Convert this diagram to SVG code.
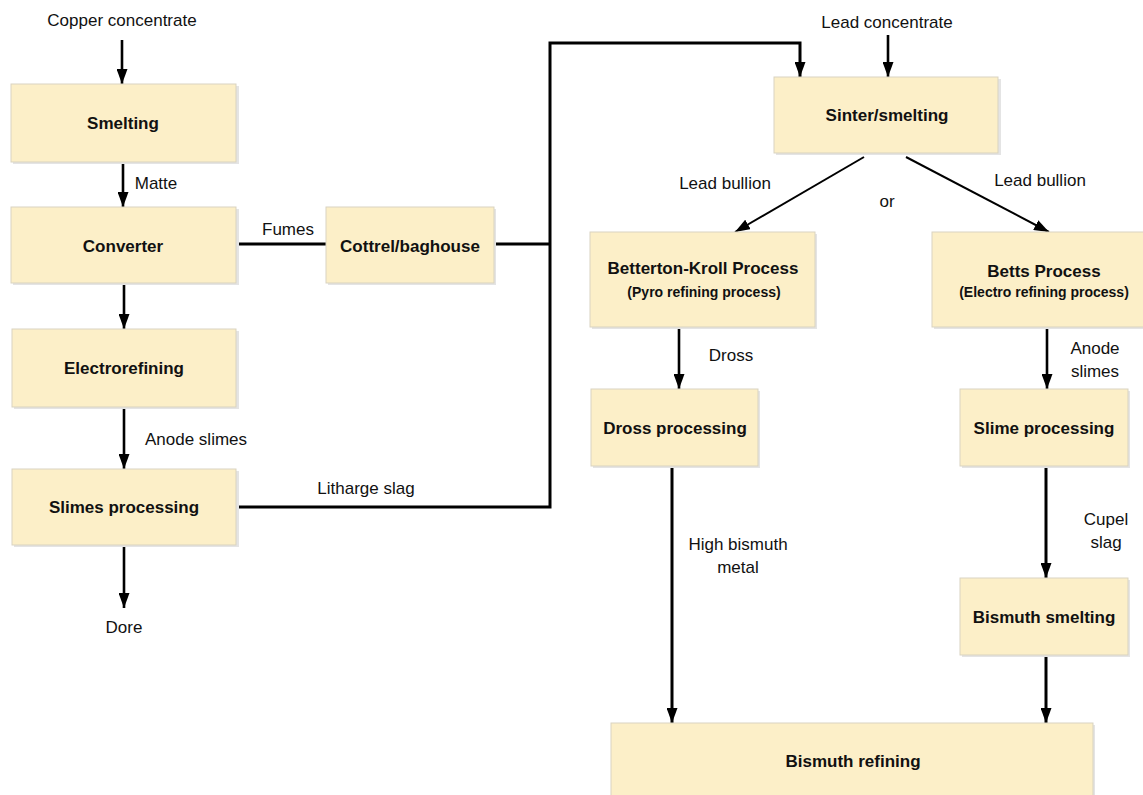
<svg xmlns="http://www.w3.org/2000/svg" width="1143" height="795" viewBox="0 0 1143 795">
<style>
.box{fill:#fcefc8;stroke:#d9d3c1;stroke-width:1}
.sh{fill:#e4e4e4}
.t{font-family:"Liberation Sans",Arial,sans-serif;font-size:17px;font-weight:bold;fill:#111;text-anchor:middle}
.s{font-family:"Liberation Sans",Arial,sans-serif;font-size:14px;font-weight:bold;fill:#111;text-anchor:middle}
.l{font-family:"Liberation Sans",Arial,sans-serif;font-size:17px;fill:#111;text-anchor:middle}
.c{fill:none;stroke:#000;stroke-width:2.6}
.d{fill:none;stroke:#000;stroke-width:2}
.k{fill:none;stroke:#000;stroke-width:3}
</style>
<defs>
<marker id="a" markerUnits="userSpaceOnUse" markerWidth="15" markerHeight="11" viewBox="0 0 15 11" refX="15" refY="5.5" orient="auto">
<path d="M0,0 L15,5.5 L0,11 z" fill="#000"/>
</marker>
</defs>
<rect width="1143" height="795" fill="#fff"/>

<g id="connectors">
<line class="c" x1="122" y1="40" x2="122" y2="84" marker-end="url(#a)"/>
<line class="c" x1="123" y1="162" x2="123" y2="207" marker-end="url(#a)"/>
<line class="c" x1="124" y1="283" x2="124" y2="329" marker-end="url(#a)"/>
<line class="c" x1="124" y1="407" x2="124" y2="469" marker-end="url(#a)"/>
<line class="c" x1="124" y1="545" x2="124" y2="608" marker-end="url(#a)"/>
<line class="k" x1="236" y1="244" x2="326" y2="244"/>
<polyline class="k" points="494,244 550,244"/>
<polyline class="k" points="236,507 550,507 550,43 800,43 800,77" marker-end="url(#a)"/>
<line class="c" x1="888" y1="35" x2="888" y2="77" marker-end="url(#a)"/>
<line class="d" x1="864" y1="157" x2="735" y2="232" marker-end="url(#a)"/>
<line class="d" x1="906" y1="157" x2="1049" y2="232" marker-end="url(#a)"/>
<line class="c" x1="679" y1="327" x2="679" y2="389" marker-end="url(#a)"/>
<line class="c" x1="1047" y1="327" x2="1047" y2="389" marker-end="url(#a)"/>
<line class="k" x1="672" y1="466" x2="672" y2="723" marker-end="url(#a)"/>
<line class="k" x1="1046" y1="466" x2="1046" y2="578" marker-end="url(#a)"/>
<line class="k" x1="1046" y1="655" x2="1046" y2="723" marker-end="url(#a)"/>
<text class="l" x="122" y="26">Copper concentrate</text>
<text class="l" x="156" y="189">Matte</text>
<text class="l" x="288" y="235">Fumes</text>
<text class="l" x="196" y="445">Anode slimes</text>
<text class="l" x="366" y="494">Litharge slag</text>
<text class="l" x="124" y="633">Dore</text>
<text class="l" x="887" y="28">Lead concentrate</text>
<text class="l" x="725" y="189">Lead bullion</text>
<text class="l" x="1040" y="186">Lead bullion</text>
<text class="l" x="887" y="207">or</text>
<text class="l" x="731" y="361">Dross</text>
<text class="l" x="1095" y="354">Anode</text>
<text class="l" x="1095" y="377">slimes</text>
<text class="l" x="738" y="550">High bismuth</text>
<text class="l" x="738" y="573">metal</text>
<text class="l" x="1106" y="525">Cupel</text>
<text class="l" x="1106" y="548">slag</text>
</g>

<g id="smelting"><rect class="sh" x="13" y="86" width="226" height="78"/><rect class="box" x="11" y="84" width="225" height="78"/><text class="t" x="123" y="129">Smelting</text></g>
<g id="converter"><rect class="sh" x="13" y="209" width="226" height="76"/><rect class="box" x="11" y="207" width="225" height="76"/><text class="t" x="123" y="252">Converter</text></g>
<g id="cottrel"><rect class="sh" x="328" y="209" width="168" height="76"/><rect class="box" x="326" y="207" width="168" height="76"/><text class="t" x="410" y="252">Cottrel/baghouse</text></g>
<g id="electrorefining"><rect class="sh" x="14" y="331" width="225" height="78"/><rect class="box" x="12" y="329" width="224" height="78"/><text class="t" x="124" y="374">Electrorefining</text></g>
<g id="slimes-processing"><rect class="sh" x="14" y="471" width="225" height="76"/><rect class="box" x="12" y="469" width="224" height="76"/><text class="t" x="124" y="513">Slimes processing</text></g>
<g id="sinter"><rect class="sh" x="776" y="79" width="225" height="76"/><rect class="box" x="774" y="77" width="224" height="76"/><text class="t" x="887" y="121">Sinter/smelting</text></g>
<g id="betterton"><rect class="sh" x="592" y="234" width="225" height="95"/><rect class="box" x="590" y="232" width="225" height="95"/><text class="t" x="703" y="274">Betterton-Kroll Process</text><text class="s" x="704" y="297">(Pyro refining process)</text></g>
<g id="betts"><rect class="sh" x="934" y="234" width="211" height="95"/><rect class="box" x="932" y="232" width="212" height="95"/><text class="t" x="1044" y="277">Betts Process</text><text class="s" x="1044" y="297">(Electro refining process)</text></g>
<g id="dross-processing"><rect class="sh" x="593" y="391" width="167" height="77"/><rect class="box" x="591" y="389" width="167" height="77"/><text class="t" x="675" y="434">Dross processing</text></g>
<g id="slime-processing"><rect class="sh" x="962" y="391" width="168" height="77"/><rect class="box" x="960" y="389" width="168" height="77"/><text class="t" x="1044" y="434">Slime processing</text></g>
<g id="bismuth-smelting"><rect class="sh" x="962" y="580" width="168" height="77"/><rect class="box" x="960" y="578" width="168" height="77"/><text class="t" x="1044" y="623">Bismuth smelting</text></g>
<g id="bismuth-refining"><rect class="sh" x="613" y="725" width="482" height="80"/><rect class="box" x="611" y="723" width="482" height="80"/><text class="t" x="853" y="767">Bismuth refining</text></g>
</svg>
